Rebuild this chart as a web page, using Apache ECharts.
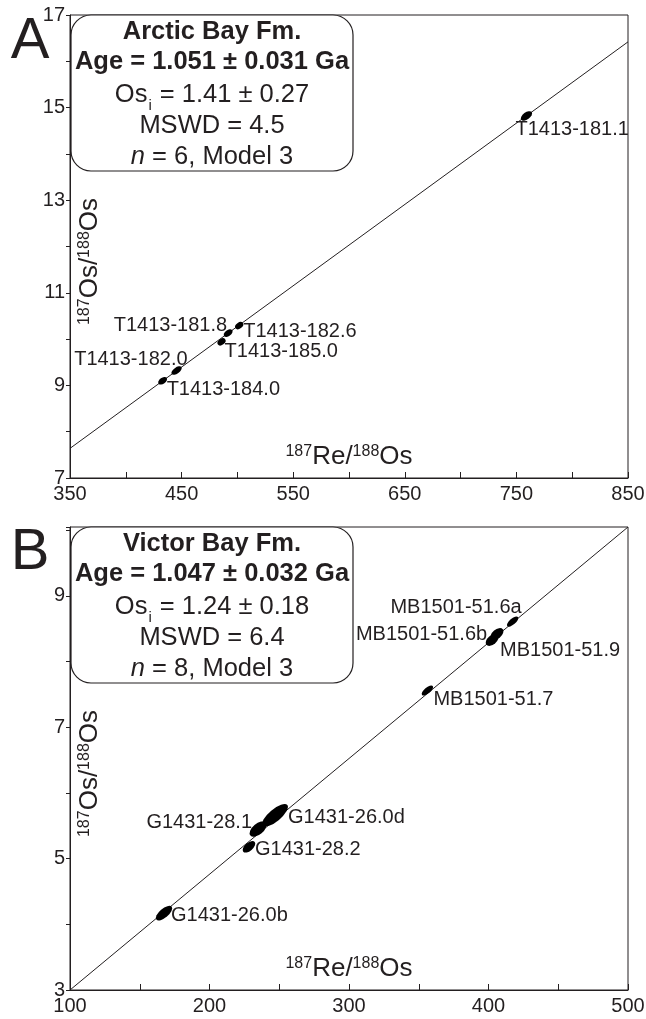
<!DOCTYPE html>
<html>
<head>
<meta charset="utf-8">
<script src="https://cdn.jsdelivr.net/npm/echarts@6/dist/echarts.min.js"></script>
<style>
  html, body { margin: 0; padding: 0; background: #fff; }
  #chart { width: 646px; height: 1019px; }
</style>
</head>
<body>
<div id="chart"></div>
<script>
// panel A - Arctic Bay Fm.
const samplesA = ['T1413-184.0', 'T1413-182.0', 'T1413-185.0', 'T1413-181.8', 'T1413-182.6', 'T1413-181.1'];
const reA = [433, 445.5, 485.8, 491.7, 501.6, 759];
const osA = [9.10, 9.32, 9.94, 10.13, 10.29, 14.82];
const isoReA = [350, 850];
const isoOsA = [7.64, 16.42];
const boxA = ['Arctic Bay Fm.', '1.051 ± 0.031', '1.41 ± 0.27', '4.5', '6'];

// panel B - Victor Bay Fm.
const samplesB = ['G1431-26.0b', 'G1431-28.2', 'G1431-28.1', 'G1431-26.0d', 'MB1501-51.7', 'MB1501-51.6b', 'MB1501-51.9', 'MB1501-51.6a'];
const reB = [167.4, 228.3, 234.8, 247.0, 356.2, 402.6, 406.1, 417.3];
const osB = [4.17, 5.18, 5.45, 5.66, 7.56, 8.33, 8.42, 8.61];
const isoReB = [100, 500];
const isoOsB = [3.0, 10.05];
const boxB = ['Victor Bay Fm.', '1.047 ± 0.032', '1.24 ± 0.18', '6.4', '8'];

// ellipse sizes (px) and label placement [align, dx, dy]
const sizeA = [[10, 6], [12, 6], [9, 6], [10, 6], [9, 6], [13, 7]];
const labA = [['left', 4, 9], ['right', 11, -11], ['left', 3, 10], ['right', -1, -8], ['left', 4, 6], ['left', -11, 14]];
const sizeB = [[20, 9], [15, 8], [20, 11], [32, 12], [14, 6], [15, 9], [15, 9], [14, 6]];
const labB = [['left', 7, 2], ['left', 6, 3], ['right', -6, -7], ['left', 13, 2], ['left', 6, 9], ['right', -5, -5], ['left', 3, 16], ['right', 9, -14]];

const INK = '#231f20';
const FONT = 'Liberation Sans';

const chart = echarts.init(document.getElementById('chart'));

function xAxis(grid, min, max) {
  return {
    type: 'value', gridIndex: grid, min: min, max: max, interval: 50,
    name: '{s|187}{m|Re/}{s|188}{m|Os}',
    nameLocation: 'middle', nameGap: -4, nameMoveOverlap: false,
    nameTextStyle: {
      verticalAlign: 'bottom', color: INK, fontFamily: FONT,
      rich: {
        m: { fontSize: 26, lineHeight: 30, verticalAlign: 'top', color: INK, fontFamily: FONT },
        s: { fontSize: 16, lineHeight: 16, verticalAlign: 'top', color: INK, fontFamily: FONT }
      }
    },
    axisLine: { lineStyle: { color: INK, width: 1 } },
    axisTick: { inside: true, length: 6, lineStyle: { color: INK } },
    splitLine: { show: false },
    axisLabel: {
      margin: 6, color: INK, fontSize: 20, fontFamily: FONT,
      formatter: v => ((v - min) % 100 === 0 ? String(v) : '')
    }
  };
}

function yAxis(grid, min, max) {
  return {
    type: 'value', gridIndex: grid, min: min, max: max, interval: 1,
    name: '{s|187}{m|Os/}{s|188}{m|Os}',
    nameLocation: 'middle', nameGap: -7, nameMoveOverlap: false,
    nameTextStyle: {
      verticalAlign: 'top', color: INK, fontFamily: FONT, padding: [0, 30, 0, 0],
      rich: {
        m: { fontSize: 26, lineHeight: 30, verticalAlign: 'top', color: INK, fontFamily: FONT },
        s: { fontSize: 16, lineHeight: 16, verticalAlign: 'top', color: INK, fontFamily: FONT }
      }
    },
    axisLine: { lineStyle: { color: INK, width: 1 } },
    axisTick: { inside: false, length: 4, lineStyle: { color: INK } },
    splitLine: { show: false },
    axisLabel: {
      margin: 5, color: INK, fontSize: 20, fontFamily: FONT,
      formatter: v => (Number.isInteger(v) && (v - min) % 2 === 0 ? String(v) : '')
    }
  };
}

function isoLine(idx, re, os) {
  return {
    type: 'line', xAxisIndex: idx, yAxisIndex: idx, silent: true,
    data: re.map((r, i) => [r, os[i]]),
    symbol: 'none', lineStyle: { color: INK, width: 1 }, z: 2
  };
}

function ellipses(idx, re, os, sizes, rot) {
  return {
    type: 'scatter', xAxisIndex: idx, yAxisIndex: idx, silent: true,
    symbol: 'circle', symbolRotate: rot,
    data: re.map((r, i) => ({ value: [r, os[i]], symbolSize: sizes[i] })),
    itemStyle: { color: '#000', opacity: 1 }, z: 3
  };
}

function labels(idx, re, os, names, lay) {
  return {
    type: 'scatter', xAxisIndex: idx, yAxisIndex: idx, silent: true,
    symbolSize: 0.1, itemStyle: { color: '#fff', opacity: 0 },
    data: re.map((r, i) => ({
      value: [r, os[i]], name: names[i],
      label: { align: lay[i][0], offset: [lay[i][1], lay[i][2]] }
    })),
    label: {
      show: true, position: 'inside', verticalAlign: 'middle', formatter: '{b}',
      color: INK, fontSize: 20, fontFamily: FONT,
      textBorderWidth: 0, textBorderColor: 'transparent', opacity: 1
    },
    z: 4
  };
}

const boxRich = {
  b: { fontSize: 25.5, fontWeight: 'bold', lineHeight: 30, verticalAlign: 'top', fill: INK, color: INK, fontFamily: FONT },
  m: { fontSize: 25.5, lineHeight: 30, verticalAlign: 'top', fill: INK, color: INK, fontFamily: FONT },
  i: { fontSize: 25.5, fontStyle: 'italic', lineHeight: 30, verticalAlign: 'top', fill: INK, color: INK, fontFamily: FONT },
  s: { fontSize: 15, lineHeight: 15, padding: [17, 1, 0, 1], verticalAlign: 'top', fill: INK, color: INK, fontFamily: FONT }
};

function statBox(top, box) {
  const lines = [
    '{b|' + box[0] + '}',
    '{b|Age = ' + box[1] + ' Ga}',
    '{m|Os}{s|i}{m| = ' + box[2] + '}',
    '{m|MSWD = ' + box[3] + '}',
    '{i|n}{m| = ' + box[4] + ', Model 3}'
  ];
  const dy = [18.5, 49, 81.5, 113, 144];
  const els = [{
    type: 'rect', shape: { x: 71, y: top, width: 282, height: 156, r: 20 },
    style: { fill: '#fff', stroke: INK, lineWidth: 1.2 }, z: 10
  }];
  lines.forEach((t, i) => {
    els.push({
      type: 'text', z: 11,
      style: {
        text: t, x: 212, y: top + dy[i], textAlign: 'center', textVerticalAlign: 'middle',
        fill: INK, fontFamily: FONT, fontSize: 25.5, rich: boxRich
      }
    });
  });
  return els;
}

chart.setOption({
  animation: false,
  grid: [
    { left: 70, top: 15, width: 558, height: 463, show: true, borderColor: INK, borderWidth: 1, backgroundColor: 'transparent', containLabel: false, outerBoundsMode: 'none' },
    { left: 70, top: 527, width: 558, height: 463, show: true, borderColor: INK, borderWidth: 1, backgroundColor: 'transparent', containLabel: false, outerBoundsMode: 'none' }
  ],
  xAxis: [xAxis(0, 350, 850), xAxis(1, 100, 500)],
  yAxis: [yAxis(0, 7, 17), yAxis(1, 3, 10.05)],
  series: [
    isoLine(0, isoReA, isoOsA),
    ellipses(0, reA, osA, sizeA, 36),
    labels(0, reA, osA, samplesA, labA),
    isoLine(1, isoReB, isoOsB),
    ellipses(1, reB, osB, sizeB, 40),
    labels(1, reB, osB, samplesB, labB)
  ],
  graphic: [
    { type: 'text', z: 12, style: { text: 'A', x: 30, y: 42, textAlign: 'center', textVerticalAlign: 'middle', fontSize: 58, fontFamily: FONT, fill: INK } },
    { type: 'text', z: 12, style: { text: 'B', x: 30, y: 553, textAlign: 'center', textVerticalAlign: 'middle', fontSize: 58, fontFamily: FONT, fill: INK } }
  ].concat(statBox(15, boxA), statBox(527, boxB))
});
</script>
</body>
</html>
